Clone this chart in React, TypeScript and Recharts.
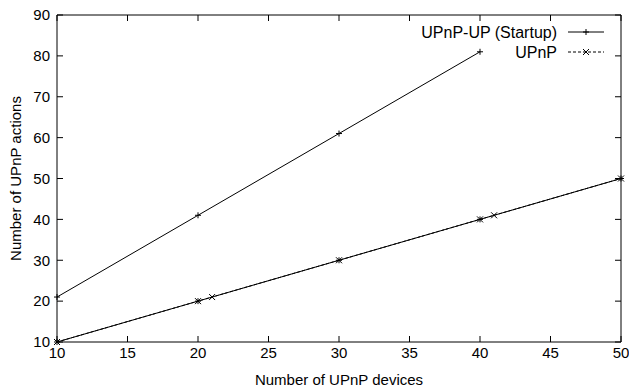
import React from 'react';
import { LineChart, Line, XAxis, YAxis } from 'recharts';

const xTicks = [10, 15, 20, 25, 30, 35, 40, 45, 50];
const yTicks = [10, 20, 30, 40, 50, 60, 70, 80, 90];

const startupX = [10, 20, 30, 40];
const startupY = [21, 41, 61, 81];

const steadyX = [10, 20, 30, 40, 50];
const steadyY = [10, 20, 30, 40, 50];

const upnpX = [10, 20, 21, 30, 40, 41, 50];
const upnpY = [10, 20, 21, 30, 40, 41, 50];

const legendLabels = ['UPnP-UP (Startup)', 'UPnP'];

const startupData = startupX.map((x, i) => ({ x, y: startupY[i] }));
const steadyData = steadyX.map((x, i) => ({ x, y: steadyY[i] }));
const upnpData = upnpX.map((x, i) => ({ x, y: upnpY[i] }));

const FONT = '"Liberation Sans", Arial, Helvetica, sans-serif';

const PlusDot = (props: any) => {
  const { cx, cy } = props;
  if (cx == null || cy == null) return null;
  const s = 3;
  return (
    <g>
      <line x1={cx - s} y1={cy} x2={cx + s} y2={cy} stroke="#000" strokeWidth={1} />
      <line x1={cx} y1={cy - s} x2={cx} y2={cy + s} stroke="#000" strokeWidth={1} />
    </g>
  );
};

const CrossDot = (props: any) => {
  const { cx, cy } = props;
  if (cx == null || cy == null) return null;
  const s = 3;
  return (
    <g>
      <line x1={cx - s} y1={cy - s} x2={cx + s} y2={cy + s} stroke="#000" strokeWidth={1} />
      <line x1={cx - s} y1={cy + s} x2={cx + s} y2={cy - s} stroke="#000" strokeWidth={1} />
    </g>
  );
};

const EmptyTick = () => <g />;

const ChartLegend = () => {
  const textRight = 557;
  const lineX1 = 568;
  const lineX2 = 604;
  const rows = [
    { label: legendLabels[0], y: 32, dash: undefined as string | undefined, cross: false },
    { label: legendLabels[1], y: 52, dash: '3 2', cross: true },
  ];
  return (
    <g>
      {rows.map((r) => (
        <g key={r.label}>
          <text x={textRight} y={r.y} dy="0.35em" textAnchor="end" fontSize={16} fontFamily={FONT} fill="#000">
            {r.label}
          </text>
          <line x1={lineX1} y1={r.y} x2={lineX2} y2={r.y} stroke="#000" strokeWidth={1} strokeDasharray={r.dash} />
          {r.cross ? <CrossDot cx={(lineX1 + lineX2) / 2} cy={r.y} /> : <PlusDot cx={(lineX1 + lineX2) / 2} cy={r.y} />}
        </g>
      ))}
    </g>
  );
};

export default function App() {
  return (
    <div style={{ position: 'fixed', top: 0, left: 0, background: '#fff' }}>
      <LineChart width={629} height={392} margin={{ top: 14, right: 7, bottom: 0, left: 0 }}>
        <XAxis
          xAxisId="b"
          type="number"
          dataKey="x"
          domain={[10, 50]}
          ticks={xTicks}
          height={50}
          stroke="#000"
          tickSize={-6}
          tickMargin={11}
          tick={{ fill: '#000', fontSize: 15, fontFamily: FONT }}
          label={{
            content: (p: any) => {
              const vb = p.viewBox;
              return (
                <text x={vb.x + vb.width / 2} y={vb.y + 43} textAnchor="middle" fontSize={15} fontFamily={FONT} fill="#000">
                  Number of UPnP devices
                </text>
              );
            },
          }}
        />
        <XAxis
          xAxisId="t"
          orientation="top"
          type="number"
          dataKey="x"
          domain={[10, 50]}
          ticks={xTicks}
          height={1}
          stroke="#000"
          tickSize={-6}
          tick={<EmptyTick />}
        />
        <YAxis
          yAxisId="l"
          type="number"
          domain={[10, 90]}
          ticks={yTicks}
          width={57}
          stroke="#000"
          tickSize={-6}
          tickMargin={13}
          tick={{ fill: '#000', fontSize: 15, fontFamily: FONT }}
          label={{
            content: (p: any) => {
              const vb = p.viewBox;
              const cx = 15;
              const cy = vb.y + vb.height / 2;
              return (
                <text x={cx} y={cy} textAnchor="middle" dominantBaseline="central" transform={`rotate(-90, ${cx}, ${cy})`} fontSize={15} fontFamily={FONT} fill="#000">
                  Number of UPnP actions
                </text>
              );
            },
          }}
        />
        <YAxis
          yAxisId="r"
          orientation="right"
          type="number"
          domain={[10, 90]}
          ticks={yTicks}
          width={1}
          stroke="#000"
          tickSize={-6}
          tick={<EmptyTick />}
        />
        <Line
          xAxisId="b"
          yAxisId="l"
          data={startupData}
          dataKey="y"
          type="linear"
          stroke="#000"
          strokeWidth={1}
          dot={<PlusDot />}
          activeDot={false}
          isAnimationActive={false}
          name="UPnP-UP (Startup)"
        />
        <Line
          xAxisId="t"
          yAxisId="r"
          data={steadyData}
          dataKey="y"
          type="linear"
          stroke="#000"
          strokeWidth={1}
          dot={<PlusDot />}
          activeDot={false}
          isAnimationActive={false}
          legendType="none"
          name="UPnP-UP"
        />
        <Line
          xAxisId="b"
          yAxisId="l"
          data={upnpData}
          dataKey="y"
          type="linear"
          stroke="#000"
          strokeWidth={1}
          strokeDasharray="3 2"
          dot={<CrossDot />}
          activeDot={false}
          isAnimationActive={false}
          name="UPnP"
        />
        <ChartLegend />
      </LineChart>
    </div>
  );
}
